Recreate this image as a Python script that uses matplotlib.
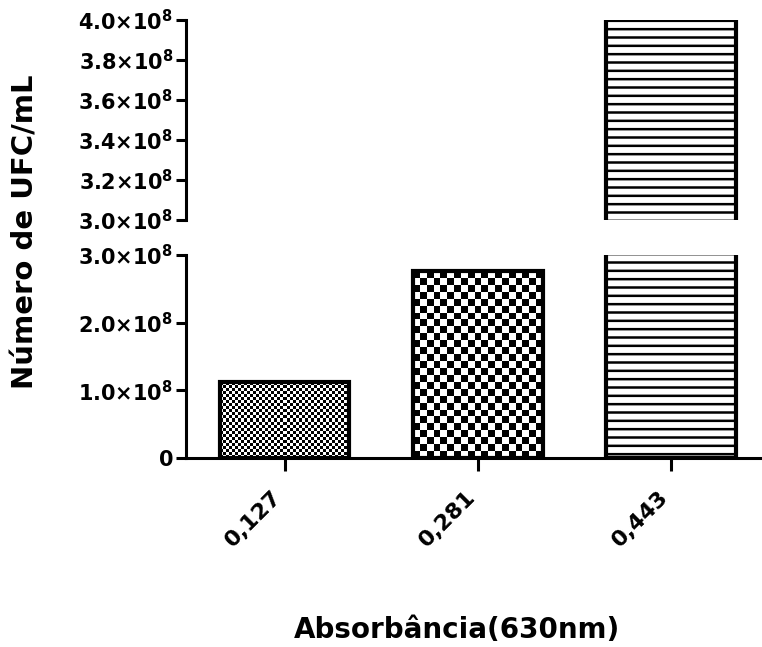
import matplotlib
matplotlib.use("Agg")
import matplotlib.pyplot as plt
import matplotlib.transforms as mtransforms
import numpy as np
from matplotlib.ticker import FuncFormatter

# data
categories = ["0,127", "0,281", "0,443"]
ufc = [1.12e8, 2.76e8, 4.2e8]
low_ticks = [0, 1.0e8, 2.0e8, 3.0e8]
high_ticks = [3.0e8, 3.2e8, 3.4e8, 3.6e8, 3.8e8, 4.0e8]
low_lim = (0, 3.0e8)
high_lim = (3.0e8, 4.0e8)

plt.rcParams["font.family"] = ["DejaVu Sans"]
plt.rcParams["font.weight"] = "bold"
plt.rcParams["mathtext.fontset"] = "dejavusans"
plt.rcParams["hatch.linewidth"] = 1.8
plt.rcParams["hatch.color"] = "#222222"

fig = plt.figure(figsize=(7.62, 6.47), dpi=100)
ax_lo = fig.add_axes([0.244, 0.292, 0.756, 0.314])
ax_hi = fig.add_axes([0.244, 0.660, 0.756, 0.309])

x = np.arange(len(categories))
xlim = (-0.51, 2.47)
width = 0.67


def sci(v, pos):
    if v == 0:
        return "0"
    return r"$\mathbf{%.1f{\times}10^{8}}$" % (v / 1e8)


def texture(ax, bar, cell, ylim):
    # fill a bar with a pixel checker pattern, clipped to the bar outline
    bx0 = bar.get_x()
    bx1 = bx0 + bar.get_width()
    by0 = max(bar.get_y(), ylim[0])
    by1 = min(bar.get_y() + bar.get_height(), ylim[1])
    (px0, py0), (px1, py1) = ax.transData.transform([[bx0, by0], [bx1, by1]])
    nx = max(1, int(round((px1 - px0) / cell)))
    ny = max(1, int(round((py1 - py0) / cell)))
    i, j = np.indices((ny, nx))
    img = (i + j) % 2
    im = ax.imshow(img, cmap="gray", extent=[bx0, bx1, by0, by1],
                   aspect="auto", interpolation="nearest", zorder=1)
    im.set_clip_path(bar)


for ax, lim, ticks in [(ax_lo, low_lim, low_ticks), (ax_hi, high_lim, high_ticks)]:
    ax.set_xlim(*xlim)
    ax.set_ylim(*lim)
    bars = ax.bar(x, ufc, width=width, facecolor="none", edgecolor="black",
                  linewidth=3, zorder=2)
    bars[2].set_hatch("--")
    for b in bars:
        b.set_joinstyle("miter")
    ax.set_xlim(*xlim)
    ax.set_ylim(*lim)
    texture(ax, bars[0], 3, lim)
    texture(ax, bars[1], 7, lim)
    ax.set_xlim(*xlim)
    ax.set_ylim(*lim)
    ax.set_yticks(ticks)
    ax.yaxis.set_major_formatter(FuncFormatter(sci))
    for s in ["top", "right"]:
        ax.spines[s].set_visible(False)
    ax.spines["left"].set_linewidth(2.2)
    ax.spines["bottom"].set_linewidth(2.2)
    ax.tick_params(axis="y", length=7, width=2.2, labelsize=15, pad=2)
    ax.patch.set_alpha(0)

ax_hi.spines["bottom"].set_visible(False)
ax_hi.tick_params(axis="x", bottom=False, labelbottom=False)

ax_lo.set_xticks(x)
ax_lo.set_xticklabels(categories, rotation=45, ha="right",
                      rotation_mode="anchor", fontsize=16, fontweight="bold")
ax_lo.tick_params(axis="x", length=9, width=2.2, pad=12)
shift = mtransforms.ScaledTranslation(-0.13, 0, fig.dpi_scale_trans)
for lbl in ax_lo.get_xticklabels():
    lbl.set_transform(lbl.get_transform() + shift)

fig.text(0.033, 0.642, "Número de UFC/mL", rotation=90, ha="center",
         va="center", fontsize=21, fontweight="bold")
fig.text(0.6, 0.026, "Absorbância(630nm)", ha="center", va="center",
         fontsize=20, fontweight="bold")

fig.savefig("out.png", dpi=100)
